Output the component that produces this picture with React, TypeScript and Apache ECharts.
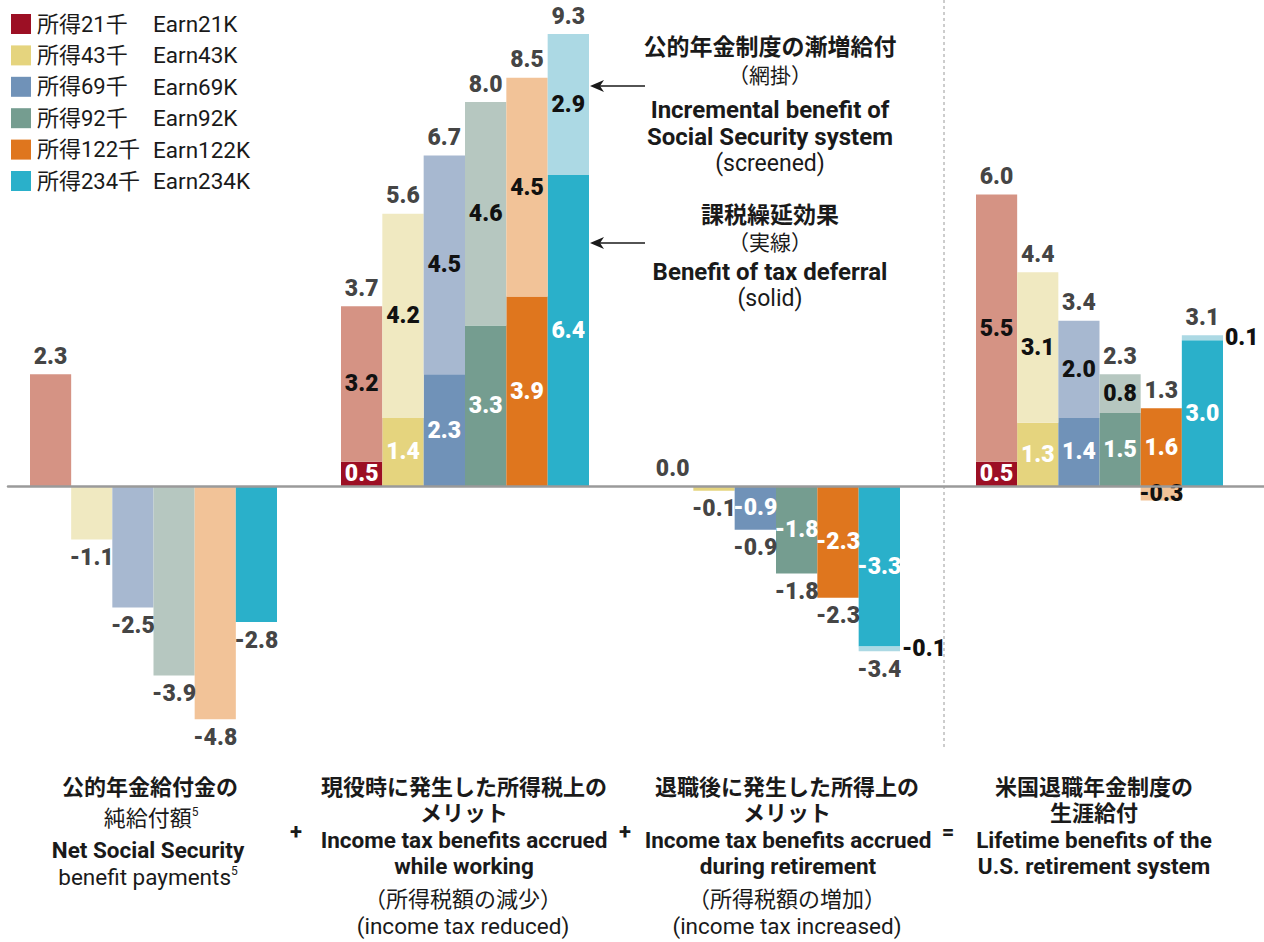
import React, { useEffect, useRef } from 'react';
import * as echarts from 'echarts';

const FONT = "Roboto, 'Noto Sans CJK JP', sans-serif";

// ---- data ----
const incomeJa = ['所得21千', '所得43千', '所得69千', '所得92千', '所得122千', '所得234千'];
const incomeEn = ['Earn21K', 'Earn43K', 'Earn69K', 'Earn92K', 'Earn122K', 'Earn234K'];

const netSSBenefit = [2.3, -1.1, -2.5, -3.9, -4.8, -2.8];

const workingSolid = [0.5, 1.4, 2.3, 3.3, 3.9, 6.4];
const workingScreened = [3.2, 4.2, 4.5, 4.6, 4.5, 2.9];
const workingTotal = [3.7, 5.6, 6.7, 8.0, 8.5, 9.3];

const retireSolid = [0.0, -0.1, -0.9, -1.8, -2.3, -3.3];
const retireScreened = [0, 0, 0, 0, 0, -0.1];
const retireTotal = [0.0, -0.1, -0.9, -1.8, -2.3, -3.4];

const lifetimeSolid = [0.5, 1.3, 1.4, 1.5, 1.6, 3.0];
const lifetimeScreened = [5.5, 3.1, 2.0, 0.8, -0.3, 0.1];
const lifetimeTotal = [6.0, 4.4, 3.4, 2.3, 1.3, 3.1];

// ---- styles ----
const solidColors = ['#9c0f24', '#e5d47e', '#7092b8', '#759d90', '#df761e', '#2ab0ca'];
const screenColors = ['#d59384', '#f0e9c1', '#a7b8d0', '#b6c7c0', '#f2c398', '#acd9e4'];
const netSSColors = [...screenColors.slice(0, 5), solidColors[5]];

const Y_MIN = -5;
const Y_MAX = 10;
const GRID_TOP = 0;
const GRID_H = 729;

type Group = {
  left: number;
  width: number;
  solid: number[] | null;
  screened: number[];
  total: number[];
  screenPalette: string[];
  inner: boolean;
};

const groups: Group[] = [
  { left: 30, width: 247, solid: null, screened: netSSBenefit, total: netSSBenefit, screenPalette: netSSColors, inner: false },
  { left: 341, width: 248, solid: workingSolid, screened: workingScreened, total: workingTotal, screenPalette: screenColors, inner: true },
  { left: 652, width: 248, solid: retireSolid, screened: retireScreened, total: retireTotal, screenPalette: screenColors, inner: true },
  { left: 976, width: 247, solid: lifetimeSolid, screened: lifetimeScreened, total: lifetimeTotal, screenPalette: screenColors, inner: true },
];

const labelBase = { fontSize: 23, fontWeight: 900 as const, fontFamily: FONT };

function segLabel(v: number, other: number, inner: boolean, isSolid: boolean) {
  if (!inner || v === 0) return { show: false };
  if (Math.abs(v) < 0.2) {
    if (other === 0) return { show: false };
    return { show: true, position: 'right', distance: 2, color: '#111', ...labelBase, formatter: () => v.toFixed(1) };
  }
  return { show: true, position: 'inside', color: isSolid ? '#fff' : '#111', ...labelBase, formatter: () => v.toFixed(1) };
}

function buildOption() {
  const grid: any[] = [{ left: 8, right: 0, top: GRID_TOP, height: GRID_H }];
  const xAxis: any[] = [
    {
      type: 'value', gridIndex: 0, min: 0, max: 1, z: 10,
      axisLine: { show: true, onZero: true, lineStyle: { color: '#9a9a9a', width: 2.5 } },
      axisTick: { show: false }, axisLabel: { show: false }, splitLine: { show: false },
    },
  ];
  const yAxis: any[] = [{ type: 'value', gridIndex: 0, min: Y_MIN, max: Y_MAX, show: false }];
  const series: any[] = [];

  groups.forEach((g, gi) => {
    const idx = gi + 1;
    grid.push({ left: g.left, width: g.width, top: GRID_TOP, height: GRID_H });
    xAxis.push({ type: 'category', gridIndex: idx, data: incomeEn, show: false });
    yAxis.push({ type: 'value', gridIndex: idx, min: Y_MIN, max: Y_MAX, show: false });

    if (g.solid) {
      const solid = g.solid;
      series.push({
        type: 'bar', name: 'solid' + idx, xAxisIndex: idx, yAxisIndex: idx, stack: 's' + idx,
        barCategoryGap: '0%', z: 2,
        data: solid.map((v, i) => ({
          value: v,
          itemStyle: { color: solidColors[i] },
          label: segLabel(v, g.screened[i], g.inner, true),
        })),
      });
    }
    series.push({
      type: 'bar', name: 'screened' + idx, xAxisIndex: idx, yAxisIndex: idx, stack: 's' + idx,
      barCategoryGap: '0%', z: 2,
      data: g.screened.map((v, i) => ({
        value: v,
        itemStyle: { color: g.screenPalette[i] },
        label: segLabel(v, g.solid ? g.solid[i] : 0, g.inner, false),
      })),
    });
    // totals
    series.push({
      type: 'scatter', name: 'total' + idx, xAxisIndex: idx, yAxisIndex: idx,
      symbolSize: 1, itemStyle: { color: 'rgba(0,0,0,0)' }, z: 5, silent: true,
      data: g.total.map((t, i) => {
        const a = g.solid ? g.solid[i] : 0;
        const b = g.screened[i];
        const anchor = t >= 0 ? Math.max(0, a) + Math.max(0, b) : Math.min(0, a) + Math.min(0, b);
        return {
          value: anchor,
          label: {
            show: true, position: t >= 0 ? 'top' : 'bottom', distance: 6, color: '#111', ...labelBase,
            formatter: () => t.toFixed(1),
          },
        };
      }),
    });
  });

  const txt = (text: string, x: number, y: number, bold: boolean, size = 22, align = 'center') => ({
    type: 'text', x, y, silent: true,
    style: {
      text, fill: '#1a1a1a', font: `${bold ? 'bold ' : ''}${size}px ${FONT}`,
      align, verticalAlign: 'middle', textAlign: align, textVerticalAlign: 'middle',
    },
  });
  const supTxt = (main: string, sup: string, x: number, y: number, size: number) => ({
    type: 'text', x, y, silent: true,
    style: {
      text: `{m|${main}}{s|${sup}}`, align: 'center', verticalAlign: 'middle', textAlign: 'center', textVerticalAlign: 'middle',
      rich: {
        m: { fontSize: size, fontFamily: FONT, fill: '#1a1a1a', color: '#1a1a1a', lineHeight: 24 },
        s: { fontSize: 12, fontFamily: FONT, fill: '#1a1a1a', color: '#1a1a1a', verticalAlign: 'top', lineHeight: 24 },
      },
    },
  });

  const graphic: any[] = [];
  // legend
  incomeJa.forEach((ja, i) => {
    const cy = 24 + 31.4 * i;
    graphic.push({ type: 'rect', shape: { x: 11, y: cy - 10, width: 20, height: 20 }, style: { fill: solidColors[i] }, silent: true });
    graphic.push(txt(ja, 37, cy, false, 22, 'left'));
    graphic.push(txt(incomeEn[i], 153, cy, false, 22.5, 'left'));
  });

  // annotation
  const ax = 770;
  graphic.push(txt('公的年金制度の漸増給付', ax, 47, true, 23));
  graphic.push(txt('（網掛）', ax, 76, false, 21));
  graphic.push(txt('Incremental benefit of', ax, 110, true, 24));
  graphic.push(txt('Social Security system', ax, 137, true, 24));
  graphic.push(txt('(screened)', ax, 163, false, 23));
  graphic.push(txt('課税繰延効果', ax, 215, true, 23));
  graphic.push(txt('（実線）', ax, 243, false, 21));
  graphic.push(txt('Benefit of tax deferral', ax, 272, true, 24));
  graphic.push(txt('(solid)', ax, 298, false, 23));
  [86, 243].forEach((y) => {
    graphic.push({ type: 'line', shape: { x1: 596, y1: y, x2: 645, y2: y }, style: { stroke: '#1a1a1a', lineWidth: 1.5 }, silent: true });
    graphic.push({ type: 'polygon', shape: { points: [[590, y], [604, y - 6], [600, y], [604, y + 6]] }, style: { fill: '#1a1a1a' }, silent: true });
  });

  // separator
  graphic.push({ type: 'line', shape: { x1: 944, y1: 0, x2: 944, y2: 748 }, style: { stroke: '#9a9a9a', lineWidth: 1, lineDash: [3, 3] }, silent: true });

  // bottom captions
  graphic.push(txt('公的年金給付金の', 150, 787, true, 22));
  graphic.push(supTxt('純給付額', '5', 151, 818, 22));
  graphic.push(txt('Net Social Security', 148, 850, true, 22.5));
  graphic.push(supTxt('benefit payments', '5', 148, 877, 22.5));

  graphic.push(txt('現役時に発生した所得税上の', 464, 787, true, 22));
  graphic.push(txt('メリット', 464, 813, true, 22));
  graphic.push(txt('Income tax benefits accrued', 464, 840, true, 22.5));
  graphic.push(txt('while working', 464, 866, true, 22.5));
  graphic.push(txt('（所得税額の減少）', 463, 899, false, 22));
  graphic.push(txt('(income tax reduced)', 463, 926, false, 22.5));

  graphic.push(txt('退職後に発生した所得上の', 787, 787, true, 22));
  graphic.push(txt('メリット', 787, 813, true, 22));
  graphic.push(txt('Income tax benefits accrued', 788, 840, true, 22.5));
  graphic.push(txt('during retirement', 788, 866, true, 22.5));
  graphic.push(txt('（所得税額の増加）', 787, 899, false, 22));
  graphic.push(txt('(income tax increased)', 787, 926, false, 22.5));

  graphic.push(txt('米国退職年金制度の', 1094, 787, true, 22));
  graphic.push(txt('生涯給付', 1094, 813, true, 22));
  graphic.push(txt('Lifetime benefits of the', 1094, 840, true, 22.5));
  graphic.push(txt('U.S. retirement system', 1094, 866, true, 22.5));

  graphic.push(txt('+', 296, 831, true, 22));
  graphic.push(txt('+', 625, 831, true, 22));
  graphic.push(txt('=', 948, 831, true, 22));

  return {
    animation: false,
    backgroundColor: '#ffffff',
    textStyle: { fontFamily: FONT },
    grid, xAxis, yAxis, series, graphic,
  };
}

export default function App() {
  const ref = useRef<HTMLDivElement>(null);
  useEffect(() => {
    if (!ref.current) return;
    const chart = echarts.init(ref.current, null, { renderer: 'svg' });
    chart.setOption(buildOption() as any);
    return () => chart.dispose();
  }, []);
  return (
    <div
      ref={ref}
      style={{ position: 'absolute', left: 0, top: 0, width: 1264, height: 942, background: '#fff' }}
    />
  );
}
